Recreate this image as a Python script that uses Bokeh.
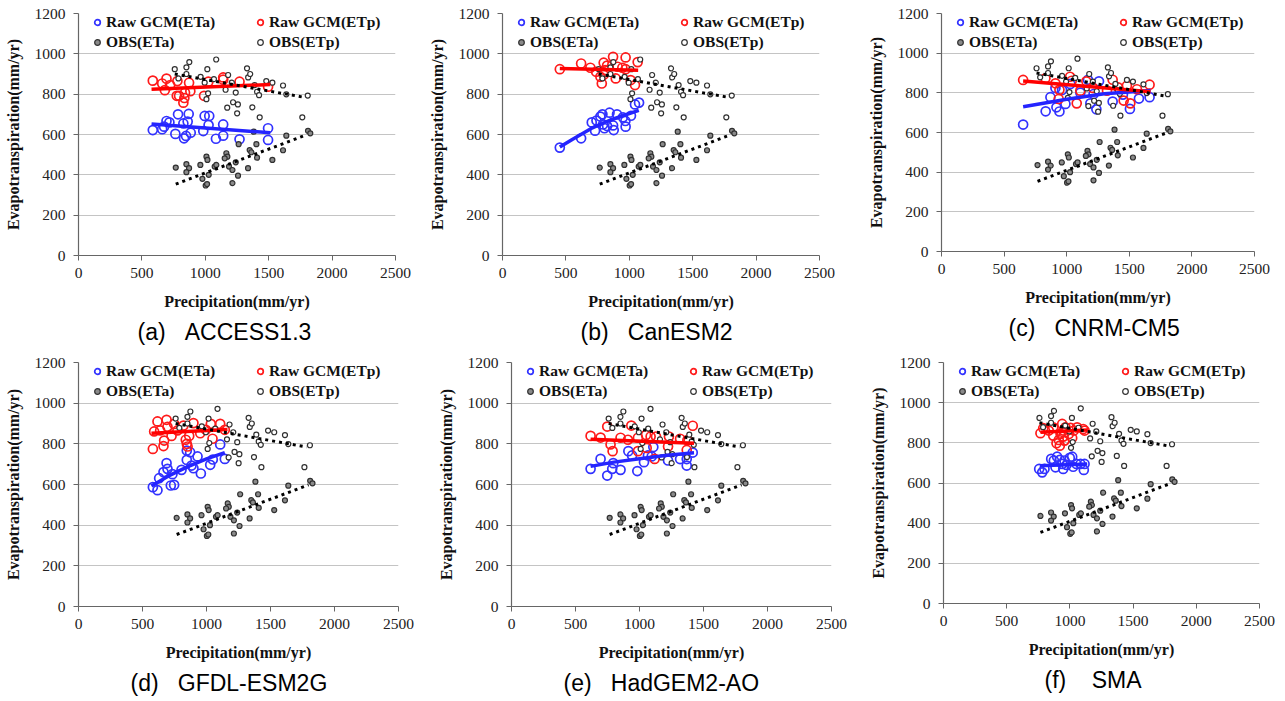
from bokeh.plotting import figure
from bokeh.models import Legend, LegendItem, FixedTicker, Title, Range1d
from bokeh.layouts import column, row
from bokeh.embed import file_html
from bokeh.resources import INLINE

# ---------------- observed data (same in every panel) ----------------
obs_etp_x = [759, 788, 851, 851, 874, 963, 995, 1009, 1016, 1022, 1068, 1086, 1160, 1173, 1180,
             1209, 1219, 1240, 1251, 1257, 1329, 1338, 1354, 1371, 1389, 1408, 1424, 1429, 1481,
             1529, 1613, 1639, 1765, 1808]
obs_etp_y = [924, 878, 933, 900, 959, 886, 857, 775, 924, 804, 875, 972, 822, 733, 895,
             857, 760, 808, 705, 749, 928, 883, 900, 735, 845, 812, 795, 685, 865,
             857, 843, 799, 685, 793]
obs_eta_x = [767, 851, 872, 851, 961, 977, 1003, 1014, 1009, 1017, 1027, 1074, 1087, 1166, 1174,
             1187, 1214, 1214, 1240, 1258, 1263, 1337, 1350, 1363, 1382, 1403, 1408, 1529, 1613,
             1639, 1810, 1828, 1153]
obs_eta_y = [436, 453, 433, 413, 449, 380, 347, 354, 490, 474, 400, 441, 449, 507, 490,
             441, 424, 359, 462, 396, 552, 433, 523, 512, 614, 552, 485, 474, 522,
             594, 618, 606, 482]
obs_eta_trend_x = [767, 1797]
obs_eta_trend_y = [354, 598]
obs_etp_trend_x = [759, 1783]
obs_etp_trend_y = [900, 784]

# ---------------- (a) ACCESS1.3 ----------------
a_etp_x = [586, 660, 694, 681, 723, 780, 775, 793, 827, 835, 840, 872, 882, 990, 1024, 1141, 1141, 1270, 1495]
a_etp_y = [867, 853, 877, 820, 845, 865, 792, 792, 758, 781, 807, 857, 815, 792, 862, 883, 872, 862, 837]
a_eta_x = [586, 660, 675, 694, 717, 764, 785, 827, 832, 848, 861, 869, 885, 984, 995, 1031, 1026, 1084,
           1141, 1141, 1270, 1495, 1495]
a_eta_y = [622, 626, 639, 667, 660, 603, 700, 655, 581, 593, 664, 702, 609, 617, 692, 692, 647, 579,
           594, 650, 576, 631, 573]
a_etp_trend_x = [576, 1513]
a_etp_trend_y = [824, 848]
a_eta_trend_x = [576, 1513]
a_eta_trend_y = [652, 609]

# ---------------- (b) CanESM2 ----------------
b_etp_x = [452, 620, 693, 738, 772, 783, 798, 798, 809, 825, 872, 893, 908, 945, 971, 971, 1011, 1045, 1066]
b_etp_y = [924, 952, 931, 911, 886, 853, 956, 896, 919, 942, 985, 878, 936, 931, 982, 924, 870, 845, 959]
b_eta_x = [452, 620, 704, 730, 741, 772, 788, 793, 804, 825, 844, 872, 877, 903, 950, 969, 971, 1013,
           1045, 1077]
b_eta_y = [535, 581, 660, 619, 669, 689, 700, 650, 631, 642, 708, 645, 622, 700, 685, 667, 639, 693,
           749, 758]
b_etp_trend_x = [452, 1070]
b_etp_trend_y = [927, 918]
b_eta_trend_x = [452, 550, 700, 850, 1075]
b_eta_trend_y = [538, 575, 630, 672, 720]

# ---------------- (c) CNRM-CM5 ----------------
c_etp_x = [652, 830, 910, 942, 936, 1027, 1040, 1080, 1109, 1157, 1210, 1322, 1367, 1410, 1455, 1481,
           1508, 1561, 1662]
c_etp_y = [865, 873, 848, 815, 769, 881, 861, 747, 811, 858, 825, 811, 866, 828, 761, 836, 747, 818, 841]
c_eta_x = [652, 832, 870, 910, 918, 942, 963, 990, 1029, 1109, 1170, 1189, 1215, 1237, 1258, 1367,
           1449, 1505, 1577, 1662]
c_eta_y = [640, 707, 778, 825, 727, 706, 814, 744, 845, 801, 866, 747, 794, 717, 858, 756, 791, 719,
           771, 778]
c_etp_trend_x = [652, 1670]
c_etp_trend_y = [860, 805]
c_eta_trend_x = [652, 1000, 1300, 1670]
c_eta_trend_y = [730, 768, 795, 812]

# ---------------- (d) GFDL-ESM2G ----------------
d_etp_x = [581, 591, 617, 638, 669, 664, 688, 695, 727, 747, 773, 820, 838, 846, 852, 865, 898, 951,
           995, 1034, 1047, 1107, 1143]
d_etp_y = [775, 861, 910, 866, 816, 789, 918, 884, 839, 898, 866, 890, 820, 800, 787, 839, 902, 852,
           869, 898, 825, 898, 869]
d_eta_x = [581, 617, 630, 664, 688, 695, 721, 747, 805, 846, 846, 872, 883, 898, 930, 956, 1029, 1049,
           1107, 1143, 734]
d_eta_y = [587, 572, 631, 661, 705, 677, 595, 598, 672, 767, 721, 759, 693, 680, 738, 654, 697, 723,
           797, 726, 651]
d_etp_trend_x = [570, 1164]
d_etp_trend_y = [852, 871]
d_eta_trend_x = [570, 700, 850, 1000, 1143]
d_eta_trend_y = [593, 641, 687, 726, 757]

# ---------------- (e) HadGEM2-AO ----------------
e_etp_x = [618, 696, 748, 774, 790, 852, 910, 936, 988, 988, 1051, 1056, 1087, 1129, 1118, 1223, 1230,
           1317, 1369, 1374, 1416]
e_etp_y = [839, 831, 885, 797, 764, 830, 820, 890, 764, 830, 844, 780, 836, 836, 726, 787, 836,
           825, 770, 818, 889]
e_eta_x = [618, 696, 748, 787, 795, 852, 913, 942, 983, 1035, 1066, 1108, 1095, 1223, 1317, 1369, 1369,
           1416]
e_eta_y = [677, 726, 644, 677, 705, 672, 764, 743, 666, 710, 743, 784, 738, 718, 725, 693, 725, 757]
e_etp_trend_x = [618, 1426]
e_etp_trend_y = [823, 803]
e_eta_trend_x = [618, 800, 1000, 1200, 1426]
e_eta_trend_y = [689, 710, 727, 743, 756]

# ---------------- (f) SMA ----------------
f_etp_x = [767, 789, 833, 868, 894, 912, 920, 926, 939, 947, 957, 965, 992, 1005, 1018, 1031, 1057,
           1105, 1116, 868, 947]
f_etp_y = [848, 873, 861, 877, 798, 814, 786, 844, 894, 861, 811, 877, 844, 874, 824, 861, 877, 869,
           861, 836, 831]
f_eta_x = [757, 781, 799, 852, 873, 886, 899, 920, 939, 947, 957, 973, 999, 1018, 1026, 1052, 1084,
           1110, 1116]
f_eta_y = [670, 653, 670, 720, 712, 678, 731, 715, 695, 670, 712, 690, 725, 731, 681, 695, 695, 665, 695]
f_etp_trend_x = [767, 1137]
f_etp_trend_y = [853, 864]
f_eta_trend_x = [762, 1137]
f_eta_trend_y = [686, 695]

captions = ["(a)\u00a0\u00a0\u00a0ACCESS1.3", "(b)\u00a0\u00a0\u00a0CanESM2", "(c)\u00a0\u00a0\u00a0CNRM-CM5",
            "(d)\u00a0\u00a0\u00a0GFDL-ESM2G", "(e)\u00a0\u00a0\u00a0HadGEM2-AO", "(f)\u00a0\u00a0\u00a0\u00a0SMA"]
x_ticks = [0, 500, 1000, 1500, 2000, 2500]
y_ticks = [0, 200, 400, 600, 800, 1000, 1200]

BLUE = "#3232ff"
RED = "#ff1a1a"
SERIF = "Liberation Serif"


def make_panel(caption, eta_x, eta_y, etp_x, etp_y, eta_tx, eta_ty, etp_tx, etp_ty,
               fw, fh, bl, br, bb, cap_off):
    p = figure(frame_width=fw, frame_height=fh, min_border_left=bl, min_border_right=br,
               min_border_top=13, min_border_bottom=bb,
               x_range=Range1d(0, 2500), y_range=Range1d(0, 1200),
               output_backend="svg", toolbar_location=None, tools="")
    p.outline_line_color = None
    p.background_fill_color = "white"
    p.border_fill_color = "white"

    p.xgrid.grid_line_color = None
    p.ygrid.grid_line_color = "#c4c4c4"
    p.ygrid.grid_line_width = 1.2

    p.xaxis.ticker = FixedTicker(ticks=x_ticks)
    p.yaxis.ticker = FixedTicker(ticks=y_ticks)
    for ax in (p.xaxis[0], p.yaxis[0]):
        ax.axis_line_color = "#666666"
        ax.axis_line_width = 1.2
        ax.major_tick_line_color = "#666666"
        ax.major_tick_in = 0
        ax.major_tick_out = 5
        ax.minor_tick_line_color = None
        ax.major_label_text_font = SERIF
        ax.major_label_text_font_size = "15.5px"
        ax.major_label_text_color = "#222222"
        ax.axis_label_text_font = SERIF
        ax.axis_label_text_font_size = "16px"
        ax.axis_label_text_font_style = "bold"
        ax.axis_label_text_color = "#111111"
    p.xaxis.axis_label = "Precipitation(mm/yr)"
    p.yaxis.axis_label = "Evapotranspiration(mm/yr)"
    p.xaxis.major_label_standoff = 7
    p.yaxis.major_label_standoff = 8
    p.xaxis.axis_label_standoff = 12
    p.yaxis.axis_label_standoff = 10

    r_eta = p.scatter(eta_x, eta_y, marker="circle", size=9, fill_color=None,
                      line_color=BLUE, line_width=1.7)
    r_etp = p.scatter(etp_x, etp_y, marker="circle", size=9, fill_color=None,
                      line_color=RED, line_width=1.7)
    r_oeta = p.scatter(obs_eta_x, obs_eta_y, marker="circle", size=5, fill_color="#8a8a8a",
                       line_color="#303030", line_width=1.2)
    r_oetp = p.scatter(obs_etp_x, obs_etp_y, marker="circle", size=5, fill_color="white",
                       line_color="#303030", line_width=1.2)

    p.line(eta_tx, eta_ty, line_color="#2424ff", line_width=3.5)
    p.line(etp_tx, etp_ty, line_color="#ff0000", line_width=3.5)
    p.line(obs_eta_trend_x, obs_eta_trend_y, line_color="black", line_width=3, line_dash="3 4")
    p.line(obs_etp_trend_x, obs_etp_trend_y, line_color="black", line_width=3, line_dash="3 4")

    ly = fh - 39
    common = dict(orientation="vertical", spacing=0, padding=0, margin=0,
                  glyph_width=14, glyph_height=20, label_height=20, label_standoff=2,
                  label_text_font=SERIF, label_text_font_size="15.5px",
                  label_text_font_style="bold", label_text_color="#111111",
                  background_fill_alpha=0, border_line_color=None)
    leg1 = Legend(items=[LegendItem(label="Raw GCM(ETa)", renderers=[r_eta]),
                         LegendItem(label="OBS(ETa)", renderers=[r_oeta])],
                  location=(12, ly), **common)
    leg2 = Legend(items=[LegendItem(label="Raw GCM(ETp)", renderers=[r_etp]),
                         LegendItem(label="OBS(ETp)", renderers=[r_oetp])],
                  location=(175, ly), **common)
    p.add_layout(leg1, "center")
    p.add_layout(leg2, "center")

    t = Title(text=caption, align="left", text_font="Liberation Sans", text_font_size="23px",
              text_font_style="normal", text_color="black", standoff=8, offset=cap_off)
    p.add_layout(t, "below")
    return p


pa = make_panel(captions[0], a_eta_x, a_eta_y, a_etp_x, a_etp_y, a_eta_trend_x, a_eta_trend_y,
                a_etp_trend_x, a_etp_trend_y, 317, 242, 78, 30, 94, 59)
pb = make_panel(captions[1], b_eta_x, b_eta_y, b_etp_x, b_etp_y, b_eta_trend_x, b_eta_trend_y,
                b_etp_trend_x, b_etp_trend_y, 317, 242, 77, 35, 94, 78)
pc = make_panel(captions[2], c_eta_x, c_eta_y, c_etp_x, c_etp_y, c_eta_trend_x, c_eta_trend_y,
                c_etp_trend_x, c_etp_trend_y, 313, 238, 87, 31, 98, 67)
pd = make_panel(captions[3], d_eta_x, d_eta_y, d_etp_x, d_etp_y, d_eta_trend_x, d_eta_trend_y,
                d_etp_trend_x, d_etp_trend_y, 320, 244, 78, 33, 95, 52)
pe = make_panel(captions[4], e_eta_x, e_eta_y, e_etp_x, e_etp_y, e_eta_trend_x, e_eta_trend_y,
                e_etp_trend_x, e_etp_trend_y, 320, 244, 80, 30, 95, 52)
pf = make_panel(captions[5], f_eta_x, f_eta_y, f_etp_x, f_etp_y, f_eta_trend_x, f_eta_trend_y,
                f_etp_trend_x, f_etp_trend_y, 316, 241, 82, 26, 98, 101)

layout = column(row(pa, pb, pc), row(pd, pe, pf))
open("out.html", "w").write(file_html(layout, INLINE))
